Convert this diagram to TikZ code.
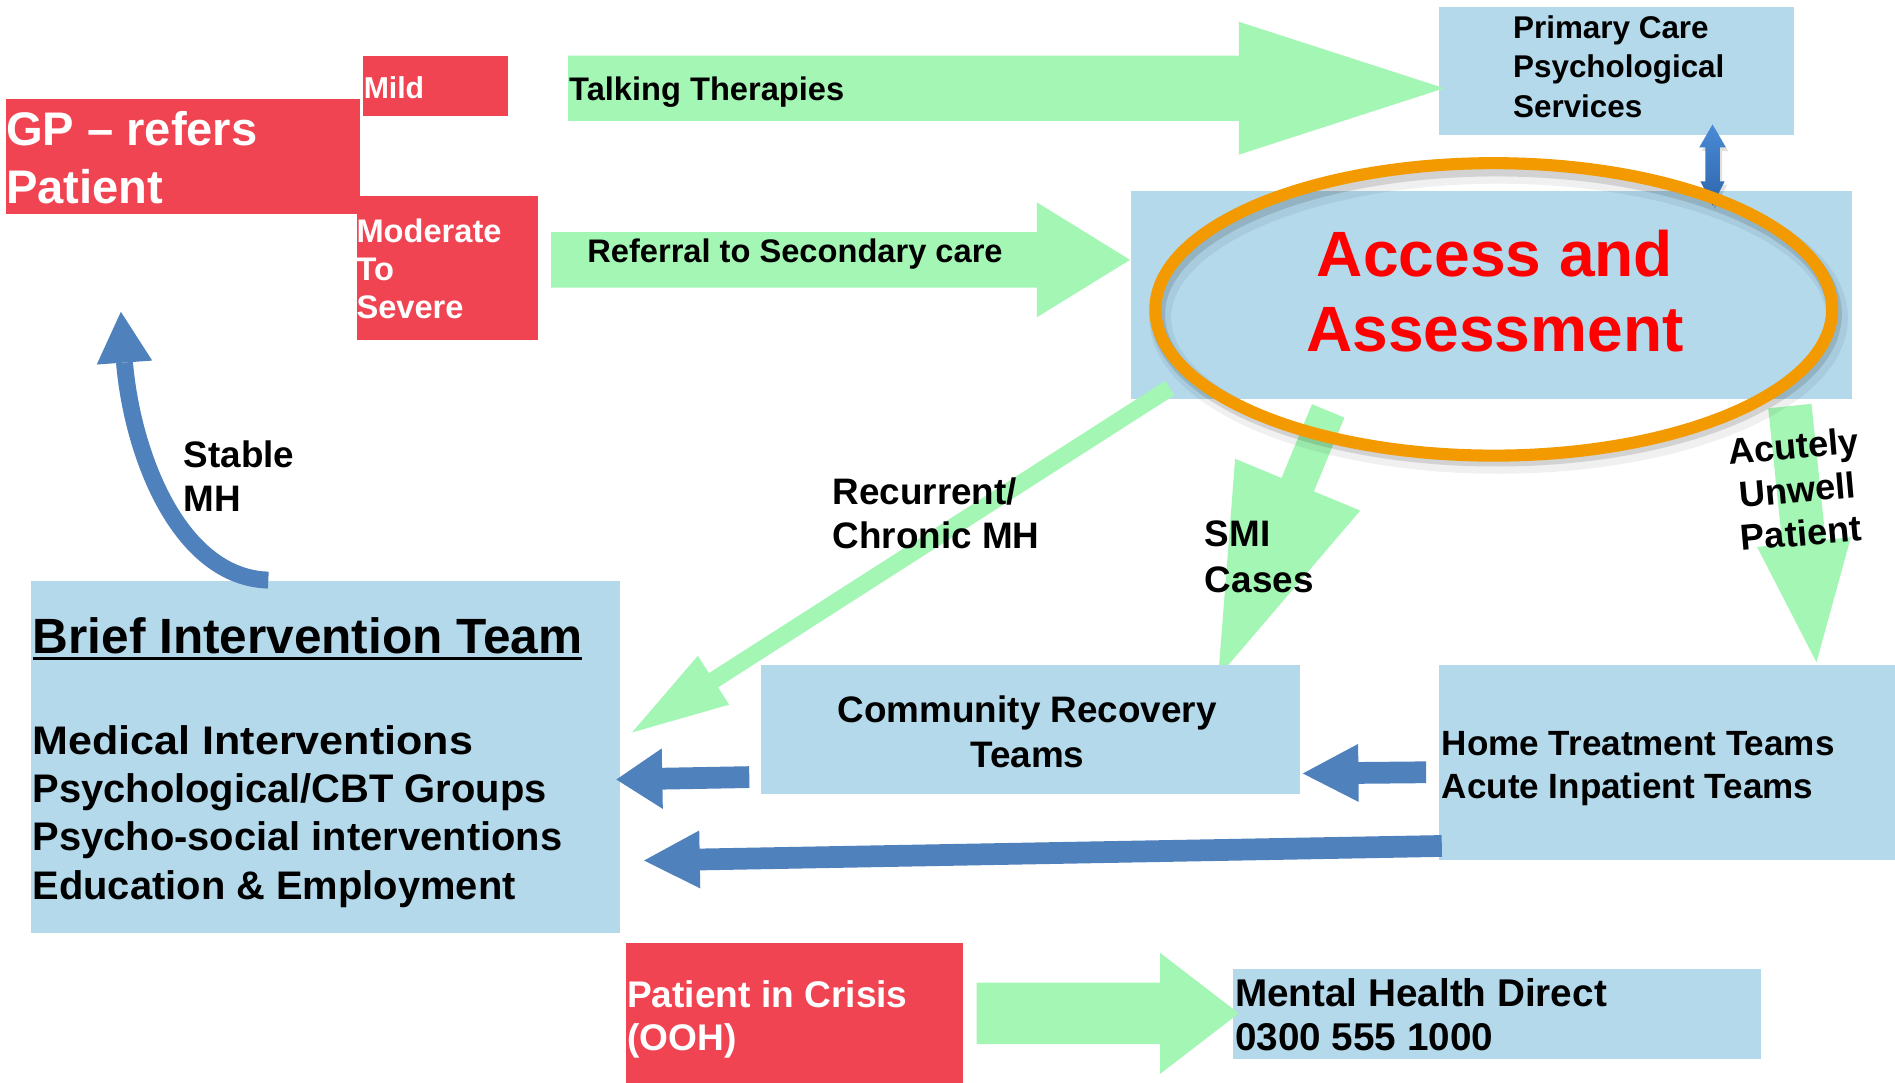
\documentclass[tikz,border=0pt]{standalone}
\usepackage{fontspec}
\usepackage{graphicx}
\setmainfont{Liberation Sans}
\usetikzlibrary{calc}

\definecolor{boxblue}{HTML}{B3D9EB}
\definecolor{alertred}{HTML}{F14452}
\definecolor{flowgreen}{HTML}{A3F6B4}
\definecolor{linkblue}{HTML}{4F81BD}
\definecolor{ringorange}{HTML}{F29A00}
\definecolor{pairtop}{HTML}{4A8AD6}
\definecolor{pairbottom}{HTML}{2E66AC}

% font size / line distance, bold
\newcommand{\fsz}[2]{\fontsize{#1}{#2}\selectfont\bfseries}

% block arrow: style, tail, tip, half shaft width, half head width, head length
\newcommand{\blockarrow}[6]{%
  \coordinate (hb) at ($(#3)!#6!(#2)$);
  \fill[#1] ($(#2)!#4!90:(#3)$) -- ($(hb)!#4!-90:(#2)$) -- ($(hb)!#5!-90:(#2)$)
    -- (#3) -- ($(hb)!#5!90:(#2)$) -- ($(hb)!#4!90:(#2)$) -- ($(#2)!#4!-90:(#3)$) -- cycle;
}

\tikzset{
  plate/.style={draw=none, inner sep=0pt, outer sep=0pt, rectangle},
  panel/.style={plate, fill=boxblue},
  alert/.style={plate, fill=alertred},
  txt/.style={inner sep=0pt, outer sep=0pt, align=left, anchor=north west},
  greenflow/.style={fill=flowgreen},
  blueflow/.style={fill=linkblue},
}

\begin{document}
\begin{tikzpicture}[x=1pt, y=-1pt]
\useasboundingbox (0,0) rectangle (1568,896);
\fill[white] (0,0) rectangle (1568,896);

% ---------- arrow end points ----------
\coordinate (rc-tail) at (968,321);
\coordinate (rc-tip) at (523,606);
\coordinate (smi-tail) at (1099,340);
\coordinate (smi-tip) at (1008,560);
\coordinate (au-tail) at (1481,336);
\coordinate (au-tip) at (1503,548);

% ---------- green arrows below the assessment ----------
\blockarrow{greenflow}{smi-tail}{smi-tip}{14.5pt}{56pt}{172pt}
\blockarrow{greenflow}{au-tail}{au-tip}{18pt}{39pt}{100pt}

% ---------- boxes ----------
\node[alert, minimum width=293pt, minimum height=95pt] (gp) at (151.5,129.5) {};
\node[alert, minimum width=120pt, minimum height=50pt] (mild) at (360,71) {};
\node[alert, minimum width=150pt, minimum height=119pt] (mod) at (370,221.5) {};
\node[panel, minimum width=293pt, minimum height=106pt] (pcps) at (1337.5,59) {};
\node[panel, minimum width=596pt, minimum height=172pt] (access) at (1234,244) {};
\node[panel, minimum width=446pt, minimum height=107pt] (crt) at (853,603.5) {};
\node[panel, minimum width=377pt, minimum height=162pt] (htt) at (1379.5,631) {};
\node[panel, minimum width=487pt, minimum height=291pt] (bit) at (269.5,626.5) {};
\node[alert, minimum width=279pt, minimum height=116pt] (crisis) at (657.5,838) {};
\node[panel, minimum width=437pt, minimum height=74pt] (mhd) at (1238.5,839) {};

% recurrent / chronic arrow starts just inside the assessment box
\blockarrow{greenflow}{rc-tail}{rc-tip}{7pt}{24pt}{80pt}

% ---------- two-way link between assessment and primary care ----------
\coordinate (pa-top) at (1417,103);
\coordinate (pa-bot) at (1417,170);
\fill[black, opacity=0.12] ([shift={(2,3)}]pa-top) -- (1430,125) -- (1425,125) -- (1425,153) -- (1429,153)
  -- ([shift={(2,3)}]pa-bot) -- (1409,153) -- (1413,153) -- (1413,125) -- (1408,125) -- cycle;
\shade[top color=pairtop, bottom color=pairbottom] (pa-top) -- (1428,122) -- (1423,122) -- (1423,150)
  -- (1427,150) -- (pa-bot) -- (1407,150) -- (1411,150) -- (1411,122) -- (1406,122) -- cycle;

% ---------- ring round the assessment ----------
\draw[black, opacity=0.06, line width=18pt] (1240,263) ellipse [x radius=280, y radius=120];
\draw[black, opacity=0.12, line width=12pt] (1238,260) ellipse [x radius=280, y radius=120];
\draw[ringorange, line width=10pt] (1236,256) ellipse [x radius=280, y radius=121];

% ---------- green arrows along the top and bottom ----------
\coordinate (tt-tail) at (470,73);
\coordinate (tt-tip) at (1195,73);
\coordinate (rs-tail) at (456,215);
\coordinate (rs-tip) at (935,215);
\coordinate (cr-tail) at (808,838.5);
\coordinate (cr-tip) at (1025,838.5);
\blockarrow{greenflow}{tt-tail}{tt-tip}{27pt}{55pt}{170pt}
\blockarrow{greenflow}{rs-tail}{rs-tip}{23pt}{47.5pt}{77pt}
\blockarrow{greenflow}{cr-tail}{cr-tip}{25.5pt}{50pt}{65pt}

% ---------- blue arrows into the brief intervention team ----------
\coordinate (c2b-tail) at (620,643);
\coordinate (c2b-tip) at (510,645);
\coordinate (h2c-tail) at (1180,639);
\coordinate (h2c-tip) at (1078,640);
\coordinate (h2b-tail) at (1193,700);
\coordinate (h2b-tip) at (533,712);
\blockarrow{blueflow}{c2b-tail}{c2b-tip}{9pt}{25pt}{38pt}
\blockarrow{blueflow}{h2c-tail}{h2c-tip}{9pt}{24pt}{46pt}
\blockarrow{blueflow}{h2b-tail}{h2b-tip}{9pt}{24pt}{46pt}

% ---------- curved arrow back to the GP ----------
\coordinate (st-tail) at (222,480);
\coordinate (st-neck) at (103,300);
\coordinate (st-tip) at (100,258);
\draw[linkblue, line width=14pt] (st-tail) .. controls (150,478) and (110,380) .. (st-neck);
\fill[linkblue] ($(st-neck)!23pt!90:(st-tip)$) -- (st-tip) -- ($(st-neck)!23pt!-90:(st-tip)$) -- cycle;

% ---------- labels ----------
\node[txt, text=white, font=\fsz{39}{48}] (gp-t) at (5,92) {GP – refers\\Patient};
\node[txt, text=white, font=\fsz{25}{30}] (mild-t) at (301,63) {Mild};
\node[txt, text=white, font=\fsz{27}{31.5}] (mod-t) at (295,181) {Moderate\\To\\Severe};
\node[txt, font=\fsz{27}{32}] (tt-t) at (471,64) {Talking Therapies};
\node[txt, font=\fsz{27}{32}] (rs-t) at (486,198) {Referral to Secondary care};
\node[txt, font=\fsz{26}{32.5}] (pcps-t) at (1252,13) {Primary Care\\Psychological\\Services};
\node[inner sep=0pt, align=center, text={rgb,255:red,255;green,0;blue,0}, font=\fsz{53}{62}] (access-t) at (1237,241) {Access and\\Assessment};
\node[txt, font=\fsz{30.5}{37}] (rc-t) at (689,395) {Recurrent/\\Chronic MH};
\node[txt, font=\fsz{30.5}{38}] (smi-t) at (997,431) {SMI\\Cases};
\node[txt, font=\fsz{30.5}{36}] (st-t) at (152,365) {Stable\\MH};
\node[inner sep=0pt, align=center, rotate=5, font=\fsz{30}{36}] (au-t) at (1487,405) {Acutely\\Unwell\\Patient};
\node[inner sep=0pt, align=center, font=\fsz{30.5}{37}] (crt-t) at (850,605.5) {Community Recovery\\Teams};
\node[txt, font=\fsz{29}{36}] (htt-t) at (1193,605) {Home Treatment Teams\\Acute Inpatient Teams};
\node[txt, font=\fsz{41}{48}] (bit-title) at (27,511) {Brief Intervention Team};
\draw[line width=2.6pt] ([yshift=-4pt]bit-title.base west) -- ([yshift=-4pt]bit-title.base east);
\node[txt, font=\fsz{33}{40}] (bit-t) at (27,600) {\scalebox{1.08}[1]{Medical Interventions}\\Psychological/CBT Groups\\Psycho-social interventions\\Education \& Employment};
\node[txt, text=white, font=\fsz{30.7}{36}] (crisis-t) at (519,811) {Patient in Crisis\\(OOH)};
\node[txt, font=\fsz{32}{36}] (mhd-t) at (1022,810) {Mental Health Direct\\0300 555 1000};
\end{tikzpicture}
\end{document}
